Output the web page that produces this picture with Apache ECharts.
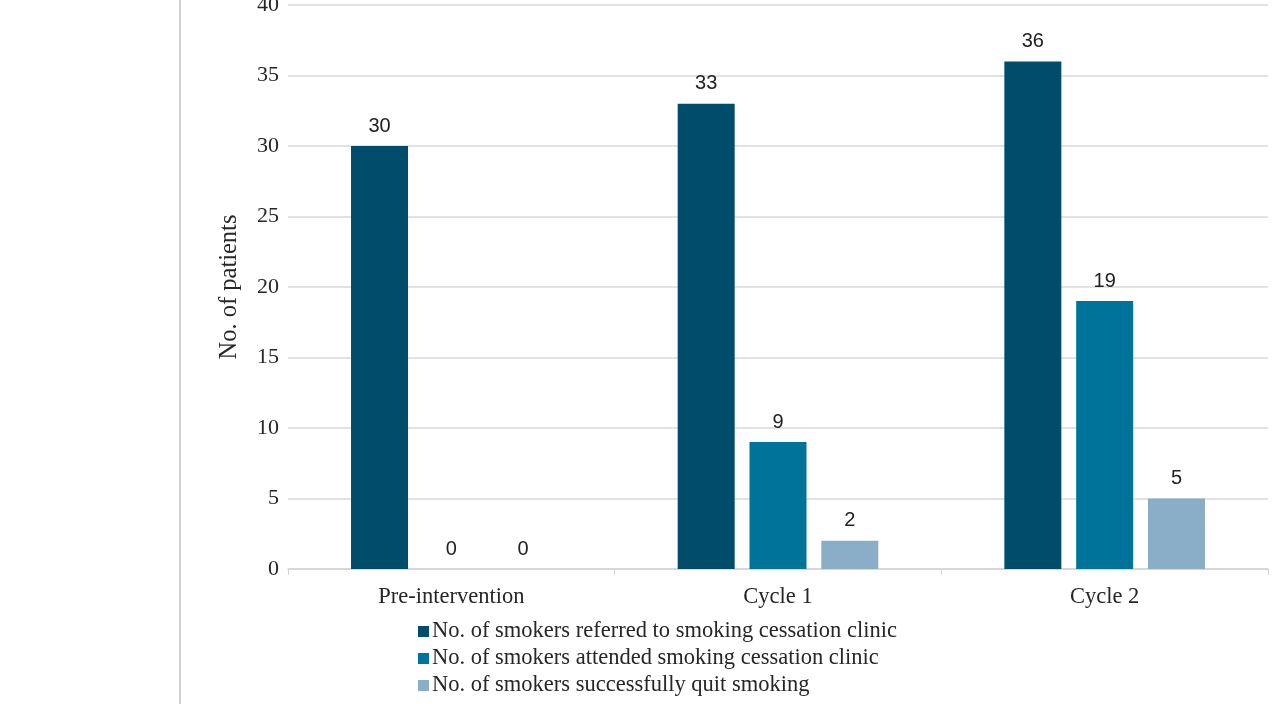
<!DOCTYPE html>
<html>
<head>
<meta charset="utf-8">
<title>Smoking cessation referrals</title>
<script src="https://cdn.jsdelivr.net/npm/echarts@6/dist/echarts.min.js"></script>
<style>
  html, body { margin: 0; padding: 0; background: #fff; }
  #main { width: 1273px; height: 704px; }
</style>
</head>
<body>
<div id="main"></div>
<script>
// data
const categories = ["Pre-intervention", "Cycle 1", "Cycle 2"];
const referred = [30, 33, 36];
const attended = [0, 9, 19];
const quit = [0, 2, 5];
const seriesNames = [
  "No. of smokers referred to smoking cessation clinic",
  "No. of smokers attended smoking cessation clinic",
  "No. of smokers successfully quit smoking"
];

const serif = "'Liberation Serif', 'Times New Roman', serif";
const sans = "'Liberation Sans', Arial, sans-serif";
const colors = ["#004d6b", "#00739a", "#8aaec8"];

function barSeries(name, values, color) {
  return {
    name: name,
    type: "bar",
    data: values,
    barWidth: 57,
    barGap: "26%",
    itemStyle: { color: color },
    label: {
      show: true,
      position: "top",
      distance: 10,
      fontFamily: sans,
      fontSize: 20,
      color: "#222"
    }
  };
}

const chart = echarts.init(document.getElementById("main"));
chart.setOption({
  animation: false,
  grid: { left: 288, right: 5, top: 5, bottom: 135, outerBoundsMode: "none" },
  graphic: [
    {
      type: "line",
      shape: { x1: 180, y1: 0, x2: 180, y2: 704 },
      style: { stroke: "#d0d0d0", lineWidth: 2 }
    }
  ],
  legend: {
    orient: "vertical",
    left: 418,
    top: 620,
    padding: 0,
    itemWidth: 11,
    itemHeight: 11,
    itemGap: 4,
    icon: "rect",
    textStyle: { fontFamily: serif, fontSize: 22.5, color: "#262626", lineHeight: 23, padding: [0, 0, 0, -2] },
    data: seriesNames
  },
  xAxis: {
    type: "category",
    data: categories,
    axisLine: { lineStyle: { color: "#d4d4d4", width: 1.5 } },
    axisTick: { show: true, length: 6, lineStyle: { color: "#d4d4d4" } },
    axisLabel: { fontFamily: serif, fontSize: 22.5, color: "#262626", margin: 17 }
  },
  yAxis: {
    type: "value",
    min: 0,
    max: 40,
    interval: 5,
    name: "No. of patients",
    nameLocation: "middle",
    nameGap: 46,
    nameTextStyle: { fontFamily: serif, fontSize: 24.5, color: "#262626" },
    axisLine: { show: false },
    axisTick: { show: false },
    axisLabel: { fontFamily: serif, fontSize: 22, color: "#262626", margin: 9 },
    splitLine: { lineStyle: { color: "#d9d9d9", width: 1.5 } }
  },
  series: [
    barSeries(seriesNames[0], referred, colors[0]),
    barSeries(seriesNames[1], attended, colors[1]),
    barSeries(seriesNames[2], quit, colors[2])
  ]
});
</script>
</body>
</html>
